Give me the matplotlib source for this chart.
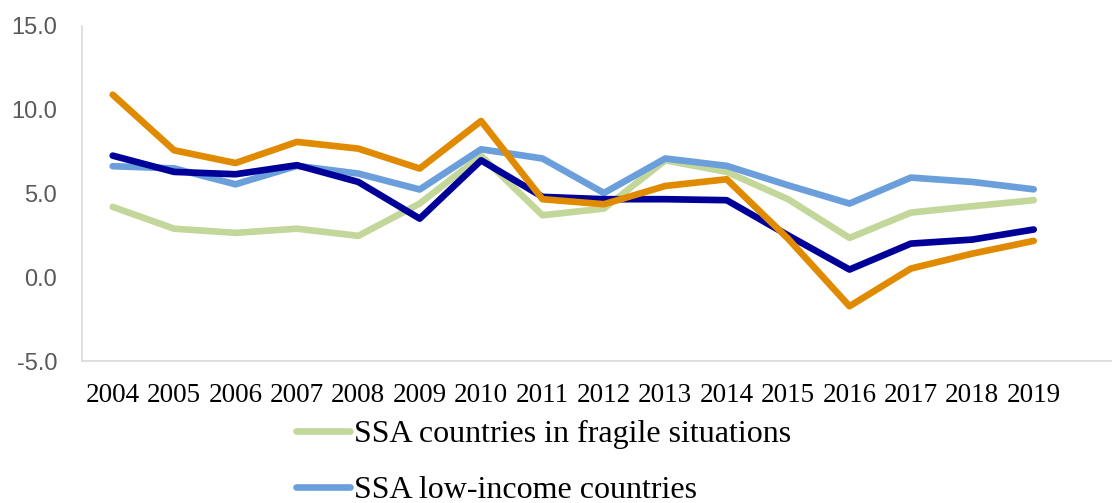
import matplotlib.pyplot as plt
from matplotlib.lines import Line2D

years = list(range(2004, 2020))

fragile = [4.2, 2.9, 2.65, 2.9, 2.47, 4.4, 7.25, 3.7, 4.1, 6.98, 6.29, 4.66, 2.35, 3.86, 4.24, 4.6]
low_income = [6.63, 6.5, 5.55, 6.65, 6.19, 5.24, 7.64, 7.09, 5.03, 7.09, 6.65, 5.49, 4.4, 5.95, 5.69, 5.25]
navy_series = [7.26, 6.29, 6.15, 6.69, 5.69, 3.5, 6.98, 4.8, 4.66, 4.66, 4.6, 2.5, 0.46, 2.01, 2.25, 2.85]
orange_series = [10.9, 7.58, 6.82, 8.08, 7.68, 6.49, 9.33, 4.66, 4.36, 5.45, 5.85, 2.3, -1.73, 0.52, 1.41, 2.17]

green = "#C4D79B"
light_blue = "#6A9FDB"
navy = "#000099"
orange = "#E08A00"

W, H = 1112, 503
fig = plt.figure(figsize=(W / 100, H / 100), dpi=100)
ax = fig.add_axes([82 / W, 1 - 361 / H, 1 - 82 / W, (361 - 26) / H])

lw = 4.8
for vals, col in [(fragile, green), (low_income, light_blue),
                  (navy_series, navy), (orange_series, orange)]:
    ax.plot(years, vals, color=col, lw=lw, solid_capstyle="round", solid_joinstyle="round")

ax.set_ylim(-5, 15)
ax.set_yticks([-5, 0, 5, 10, 15])
ax.set_yticklabels([f"{v:.1f}" for v in [-5, 0, 5, 10, 15]],
                   fontfamily="Liberation Sans", fontsize=17, color="#595959")
ax.set_xlim(2003.5, 2003.5 + (W - 82) / 61.4)
ax.set_xticks(years)
ax.set_xticklabels([str(y) for y in years], fontfamily="Liberation Serif", fontsize=19.5)
ax.tick_params(axis="y", length=0, pad=18)
ax.tick_params(axis="x", length=0, pad=16)

for side in ["top", "right"]:
    ax.spines[side].set_visible(False)
for side in ["left", "bottom"]:
    ax.spines[side].set_color("#D9D9D9")
    ax.spines[side].set_linewidth(1.2)

handles = [Line2D([], [], color=green, lw=lw, solid_capstyle="round"),
           Line2D([], [], color=light_blue, lw=lw, solid_capstyle="round")]
labels = ["SSA countries in fragile situations", "SSA low-income countries"]
fig.legend(handles, labels, loc="upper left", bbox_to_anchor=(296 / W, 1 - 420 / H),
           frameon=False, prop={"family": "Liberation Serif", "size": 23},
           handlelength=1.7, handletextpad=0.12, labelspacing=0.82, borderpad=0,
           borderaxespad=0)

fig.savefig("out.png", dpi=100)
